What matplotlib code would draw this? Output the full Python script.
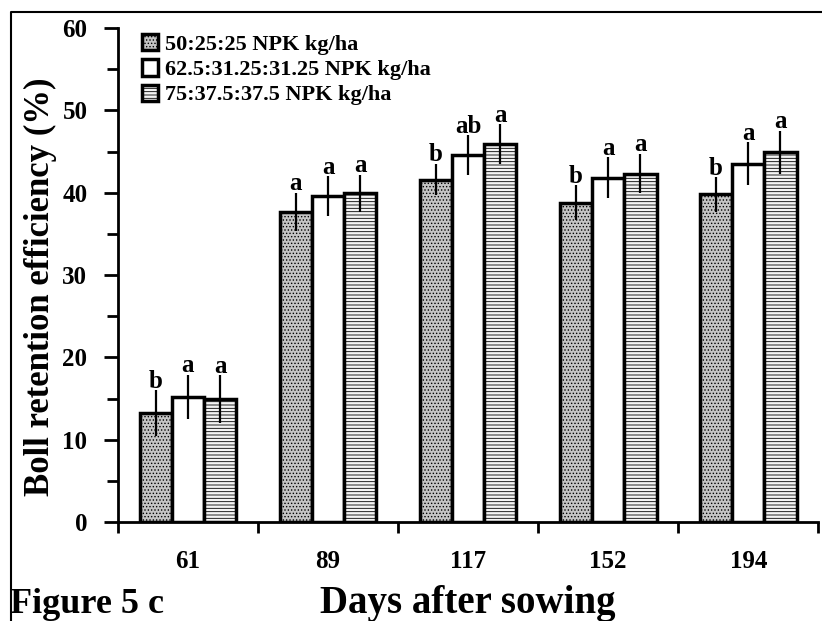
import numpy as np
import matplotlib.pyplot as plt
from matplotlib.lines import Line2D

days = ['61', '89', '117', '152', '194']
labels = ['50:25:25 NPK kg/ha', '62.5:31.25:31.25 NPK kg/ha', '75:37.5:37.5 NPK kg/ha']

low = [13.2, 37.7, 41.6, 38.8, 39.8]
mid = [15.2, 39.6, 44.6, 41.8, 43.5]
high = [14.9, 39.9, 45.9, 42.3, 44.9]

low_err = [2.8, 2.3, 1.9, 2.1, 2.1]
mid_err = [2.7, 2.4, 2.4, 2.5, 2.6]
high_err = [2.9, 2.3, 2.4, 2.4, 2.6]

low_sig = ['b', 'a', 'b', 'b', 'b']
mid_sig = ['a', 'a', 'ab', 'a', 'a']
high_sig = ['a', 'a', 'a', 'a', 'a']

plt.rcParams['font.family'] = ['Liberation Serif', 'DejaVu Serif']
plt.rcParams['font.weight'] = 'bold'
plt.rcParams['hatch.linewidth'] = 0.6
plt.rcParams['hatch.color'] = '#707070'

fig = plt.figure(figsize=(8.22, 6.21), dpi=100)
ax = fig.add_axes([0.1435, 0.1594, 0.852, 0.7955])

x = np.arange(len(days))
w = 0.23
series = [
    (low, low_err, low_sig, '#c4c4c4', '.....'),
    (mid, mid_err, mid_sig, 'white', None),
    (high, high_err, high_sig, '#f4f4f4', '-----'),
]
for i, (vals, errs, sig, fc, hatch) in enumerate(series):
    pos = x + (i - 1) * w
    ax.bar(pos, vals, w, color=fc, hatch=hatch, edgecolor='black', linewidth=2.5,
           label=labels[i], zorder=2)
    ax.errorbar(pos, vals, yerr=errs, fmt='none', ecolor='black', elinewidth=1.6,
                capsize=0, zorder=3)
    for p, v, e, s in zip(pos, vals, errs, sig):
        ax.text(p, v + e - 0.3, s, ha='center', va='bottom', fontsize=18,
                fontweight='bold', zorder=4)

ax.set_xlim(-0.5, len(days) - 0.5)
ax.set_ylim(0, 60)
ax.set_yticks(range(0, 61, 10))
ax.set_yticks(range(5, 60, 10), minor=True)
ax.set_xticks(x)
ax.set_xticklabels(days)
ax.set_xticks(np.arange(-0.5, len(days), 1), minor=True)
ax.tick_params(axis='x', which='major', length=0, pad=20, labelsize=18)
ax.tick_params(axis='x', which='minor', length=8, width=2, direction='out')
ax.tick_params(axis='y', which='major', length=10, width=2, labelsize=18, pad=12)
ax.tick_params(axis='y', which='minor', length=8, width=2)
for t in ax.get_yticklabels() + ax.get_xticklabels():
    t.set_fontweight('bold')

for s in ['top', 'right']:
    ax.spines[s].set_visible(False)
for s in ['left', 'bottom']:
    ax.spines[s].set_linewidth(2)

fig.text(40 / 822, 0.538, 'Boll retention efficiency (%)', rotation=90,
         ha='center', va='center', fontsize=25, fontweight='bold')
fig.text(0.569, 0.013, 'Days after sowing', ha='center', va='baseline',
         fontsize=28, fontweight='bold')
fig.text(0.012, 0.013, 'Figure 5 c', ha='left', va='baseline', fontsize=26,
         fontweight='bold')

ax.legend(loc='upper left', bbox_to_anchor=(0.015, 1.015), frameon=False,
          prop={'size': 16, 'weight': 'bold'}, handlelength=0.75, handleheight=0.75,
          handletextpad=0.3, labelspacing=0.2, borderaxespad=0.2)

fig.lines.append(Line2D([11 / 822, 11 / 822, 1.0], [0.0, 1 - 12 / 621, 1 - 12 / 621],
                        transform=fig.transFigure, color='black', linewidth=1.5))

fig.savefig('out.png', dpi=100)
